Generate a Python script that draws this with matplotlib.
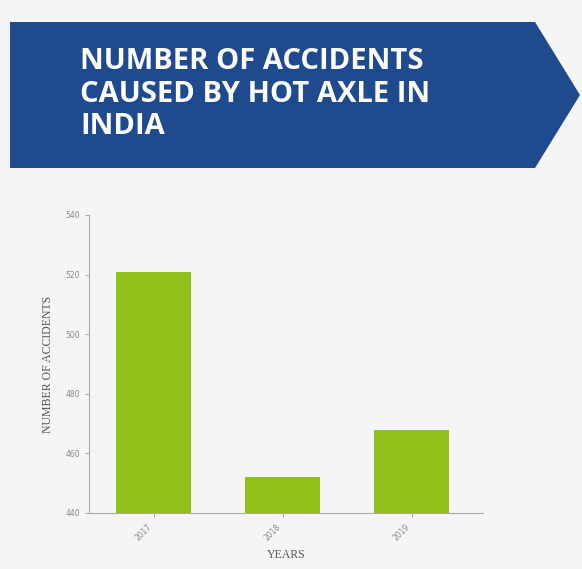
import matplotlib
matplotlib.use("Agg")
import matplotlib.pyplot as plt
from matplotlib.patches import Polygon
import numpy as np

years = ['2017', '2018', '2019']
accidents = [521, 452, 468]
y_ticks = [440, 460, 480, 500, 520, 540]

W, H = 582, 569
fig = plt.figure(figsize=(W / 100, H / 100), dpi=100)
fig.patch.set_facecolor('#f5f5f5')


def px(x, y):
    # pixel coords (from top-left) to figure fraction
    return (x / W, 1 - y / H)


# blue arrow banner
banner = Polygon([px(10, 22), px(535, 22), px(580, 95), px(535, 168), px(10, 168)],
                 closed=True, transform=fig.transFigure, facecolor='#1f4a8e',
                 edgecolor='none')
fig.patches.append(banner)
fig.text(80 / W, 1 - 47 / H, 'NUMBER OF ACCIDENTS\nCAUSED BY HOT AXLE IN\nINDIA',
         color='white', fontsize=21, fontweight='bold', family='Open Sans',
         ha='left', va='top', linespacing=1.17)

ax = fig.add_axes([89 / W, 1 - 513 / H, (483 - 89) / W, (513 - 215) / H])
ax.set_facecolor('#f5f5f5')
x = np.arange(len(years))
ax.bar(x, accidents, width=0.58, color='#92c01b')
ax.set_xlim(-0.5, 2.55)
ax.set_ylim(440, 540)
ax.set_yticks(y_ticks)
ax.set_xticks(x)
ax.set_xticklabels(years, rotation=45, ha='right')
ax.tick_params(labelsize=5.5, colors='#888888', length=3, width=0.5)
for s in ['top', 'right']:
    ax.spines[s].set_visible(False)
for s in ['left', 'bottom']:
    ax.spines[s].set_color('#aaaaaa')
    ax.spines[s].set_linewidth(0.8)

ax.set_ylabel('NUMBER OF ACCIDENTS', family='Liberation Serif', fontsize=8.5,
              color='#555555', labelpad=8)
ax.set_xlabel('YEARS', family='Liberation Serif', fontsize=8.5, color='#555555',
              labelpad=5)

fig.savefig('out.png', dpi=100, facecolor=fig.get_facecolor())
